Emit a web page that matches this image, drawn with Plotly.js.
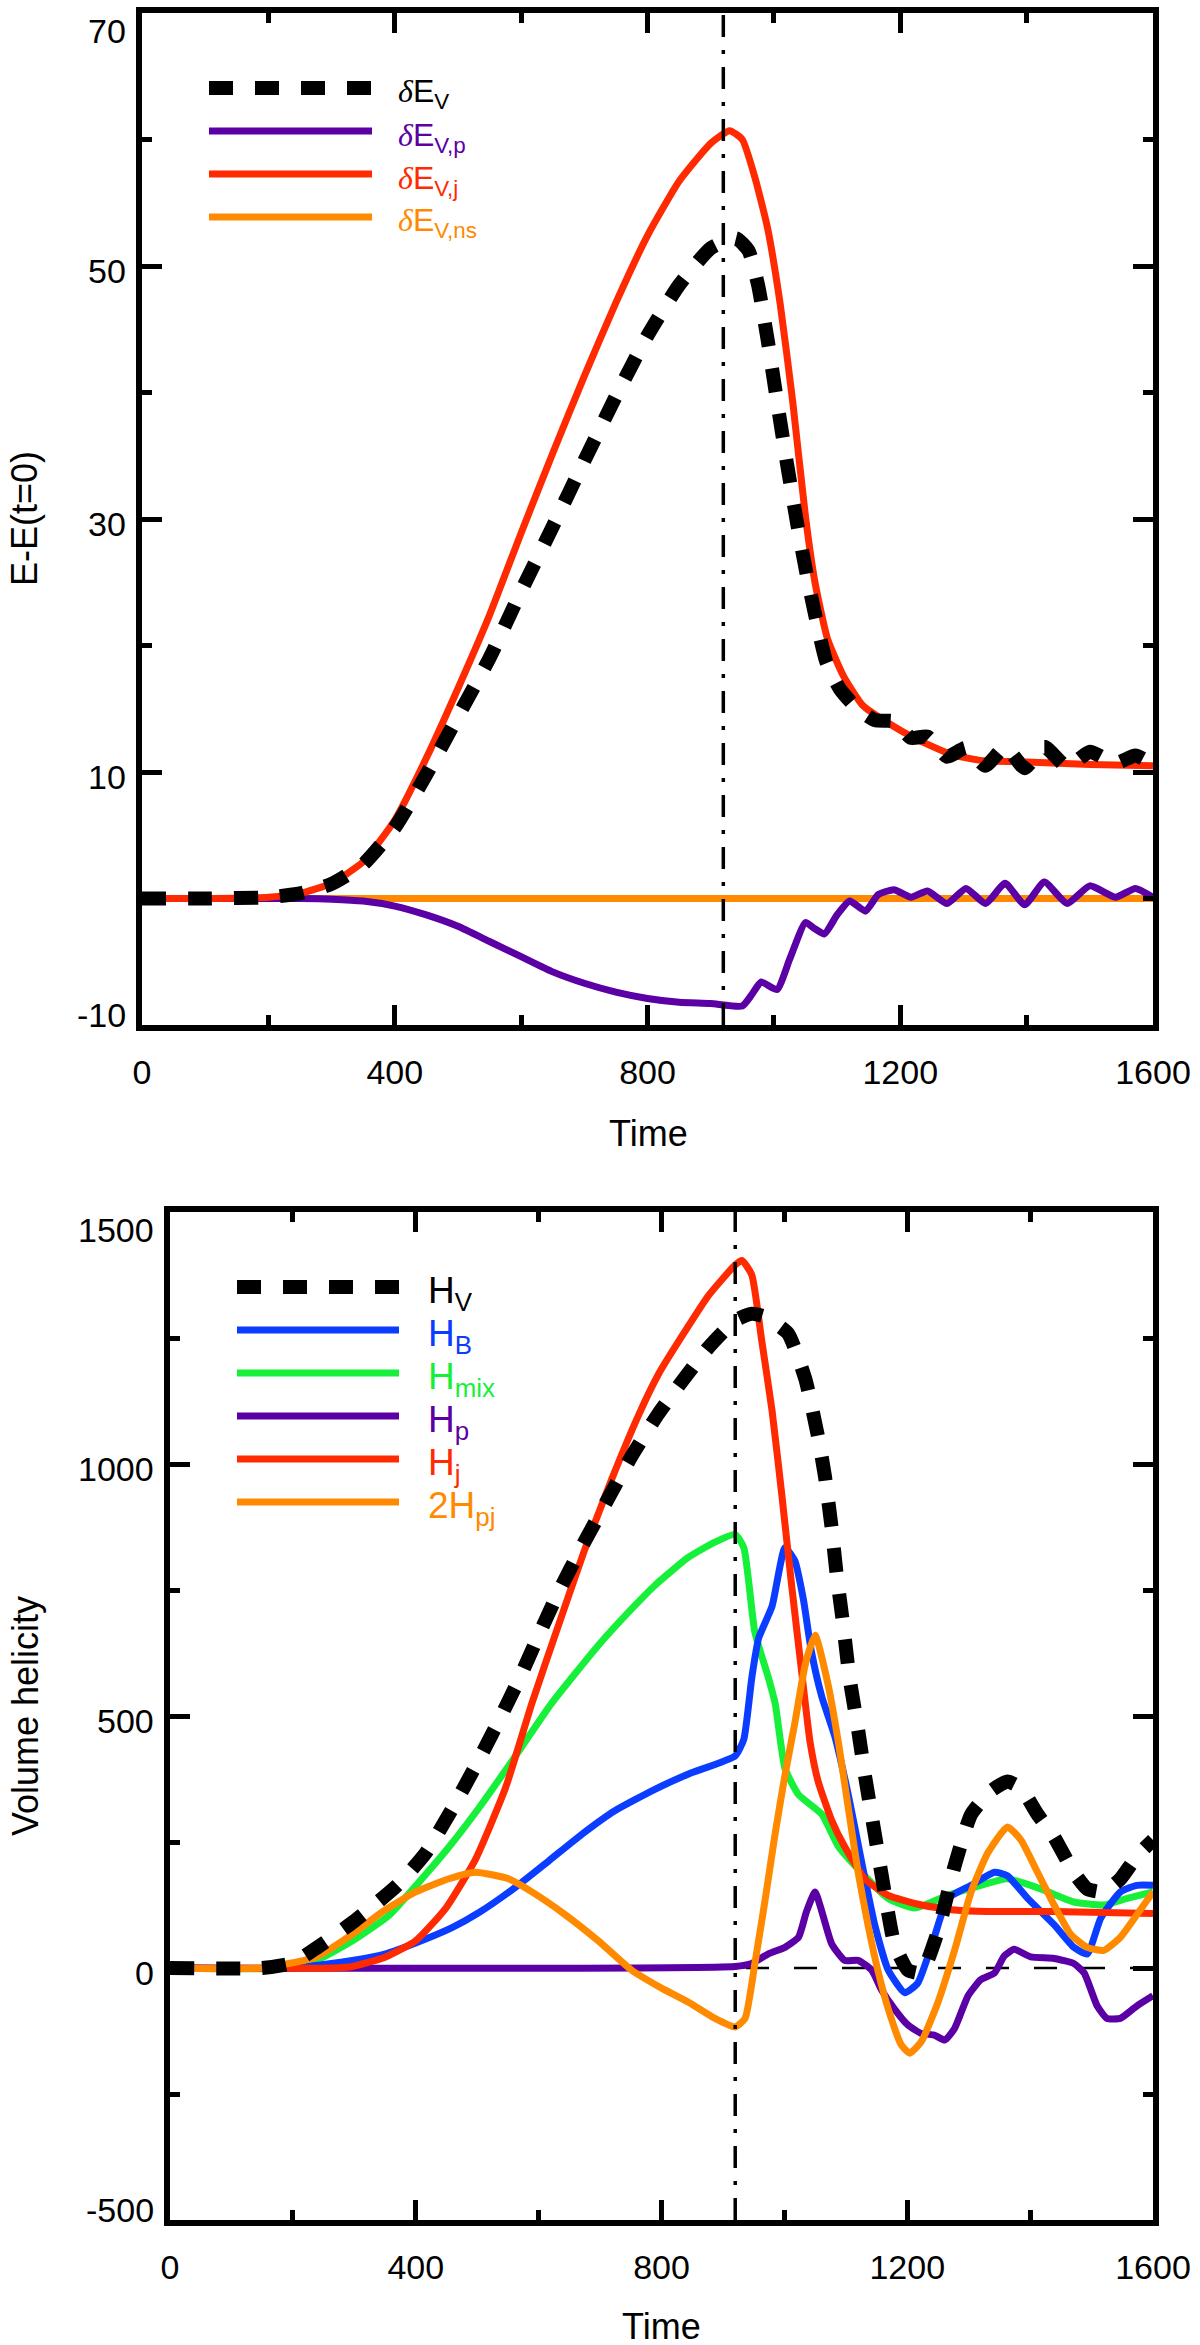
<!DOCTYPE html>
<html>
<head>
<meta charset="utf-8">
<script src="https://cdn.plot.ly/plotly-3.0.1.min.js"></script>
<style>
  body { margin: 0; background: #fff; }
  #graph { width: 1200px; height: 2345px; }
</style>
</head>
<body>
<div id="graph"></div>
<script>
// ---- top panel: energies ----
const tEv = [0, 100, 200, 250, 300, 350, 400, 450, 500, 550, 600, 650, 700, 750, 800, 850, 900, 940, 960, 975,
  990, 1006, 1021, 1037, 1052, 1068, 1083, 1104, 1130, 1160, 1191, 1217, 1243, 1274, 1304, 1335, 1366, 1397, 1428, 1464,
  1500, 1541, 1572, 1600];
const eV = [0, 0, 0.1, 0.4, 1.15, 2.7, 5.6, 9.8, 14.4, 19.0, 24.3, 29.4, 34.6, 39.7, 44.5, 48.5, 51.4, 52.2, 51.2, 48.5,
  44.2, 39.0, 34.3, 29.6, 25.6, 21.8, 18.7, 16.6, 15.1, 14.1, 14.0, 12.7, 12.8, 11.2, 11.9, 10.5, 12.0, 10.3, 12.0, 10.4,
  11.6, 10.7, 11.3, 10.6];

const tEp = [0, 250, 300, 350, 400, 450, 500, 550, 600, 650, 700, 750, 800, 850, 900, 950, 965, 980, 1005, 1025,
  1050, 1065, 1080, 1100, 1120, 1145, 1165, 1190, 1217, 1243, 1274, 1304, 1335, 1366, 1397, 1428, 1464, 1500, 1541, 1572,
  1600];
const eP = [0, 0, -0.05, -0.2, -0.6, -1.3, -2.2, -3.4, -4.6, -5.8, -6.7, -7.4, -7.9, -8.2, -8.3, -8.5, -7.6, -6.6, -7.2, -4.8,
  -1.9, -2.4, -2.8, -1.3, -0.2, -1.0, 0.3, 0.7, 0.1, 0.6, -0.4, 0.8, -0.4, 1.2, -0.5, 1.3, -0.4, 1.0, 0.1, 0.8,
  0.1];

const tEj = [0, 100, 200, 250, 300, 350, 400, 450, 500, 550, 600, 650, 700, 750, 800, 850, 900, 930, 950, 970,
  990, 1010, 1030, 1050, 1065, 1085, 1110, 1140, 1180, 1230, 1280, 1330, 1400, 1500, 1600];
const eJ = [0, 0, 0.1, 0.4, 1.2, 2.9, 6.2, 11.1, 16.6, 22.4, 28.9, 35.2, 41.3, 47.1, 52.4, 56.7, 59.7, 60.7, 60.0, 57.0,
  53.0, 47.0, 39.2, 30.2, 25.0, 20.5, 17.6, 15.3, 13.9, 12.5, 11.4, 10.9, 10.8, 10.6, 10.5];

const tEns = [0, 1600];
const eNs = [0, 0];

const energyTickVals = [-10, 10, 30, 50, 70];
const energyTickText = ['-10', '10', '30', '50', '70'];

// ---- bottom panel: helicities ----
const tHv = [0, 150, 200, 240, 300, 370, 416, 459, 497, 535, 570, 600, 632, 670, 708, 751, 795, 834, 877, 920,
  947, 969, 1006, 1034, 1055, 1066, 1077, 1085, 1096, 1106, 1120, 1131, 1147, 1163, 1179, 1201, 1223, 1250, 1277, 1304,
  1336, 1363, 1385, 1412, 1439, 1471, 1493, 1520, 1547, 1574, 1600];
const hV = [0, 0, 10, 41, 93, 164, 228, 315, 400, 490, 578, 660, 745, 835, 920, 1015, 1100, 1165, 1232, 1285,
  1298, 1292, 1259, 1169, 1053, 976, 873, 782, 679, 576, 473, 383, 267, 151, 48, -4, -10, 73, 202, 305,
  351, 370, 357, 305, 260, 190, 157, 151, 177, 222, 254];

const tHb = [0, 200, 297, 351, 405, 459, 503, 562, 616, 670, 724, 790, 844, 920, 934, 947, 958, 980, 1001, 1017,
  1031, 1044, 1061, 1082, 1104, 1125, 1147, 1169, 1196, 1217, 1244, 1266, 1304, 1342, 1363, 1396, 1439, 1471, 1493, 1515,
  1547, 1574, 1600];
const hB = [0, 0, 15, 28, 52, 80, 110, 160, 212, 265, 312, 355, 385, 421, 454, 576, 654, 718, 834, 808,
  731, 628, 538, 460, 344, 215, 86, -4, -49, -30, 61, 138, 164, 190, 183, 138, 86, 41, 28, 99,
  151, 164, 164];

const tHmix = [0, 184, 238, 297, 357, 405, 454, 503, 562, 621, 697, 751, 790, 844, 887, 920, 934, 952, 974, 985,
  1001, 1023, 1061, 1088, 1125, 1169, 1212, 1266, 1320, 1363, 1417, 1471, 1520, 1558, 1600];
const hMix = [0, 0, 15, 54, 105, 170, 240, 318, 420, 525, 640, 712, 760, 815, 845, 860, 834, 666, 576, 525,
  396, 344, 305, 241, 190, 138, 119, 144, 164, 177, 157, 131, 125, 138, 151];

const tHp = [0, 920, 947, 974, 1001, 1023, 1036, 1050, 1061, 1077, 1098, 1120, 1142, 1158, 1179, 1201, 1223, 1244, 1261, 1277,
  1299, 1320, 1342, 1358, 1374, 1401, 1439, 1471, 1488, 1509, 1525, 1547, 1574, 1600];
const hP = [0, 3, 9, 28, 41, 61, 112, 151, 112, 48, 15, 15, -4, -43, -81, -113, -130, -133, -143, -120,
  -55, -23, -10, 24, 37, 22, 19, 9, -10, -75, -100, -100, -75, -55];

const tHj = [0, 265, 297, 351, 400, 449, 497, 546, 589, 632, 675, 719, 762, 795, 834, 877, 920, 931, 947, 963,
  980, 996, 1012, 1028, 1042, 1055, 1077, 1098, 1131, 1169, 1223, 1277, 1331, 1439, 1600];
const hJ = [0, 0, 3, 22, 54, 119, 215, 357, 525, 679, 830, 970, 1095, 1178, 1255, 1335, 1395, 1404, 1375, 1246,
  1105, 937, 757, 589, 447, 370, 293, 241, 177, 144, 125, 115, 112, 112, 108];

const tH2pj = [0, 150, 238, 297, 346, 400, 454, 497, 551, 589, 643, 697, 751, 800, 844, 887, 920, 936, 952, 969,
  985, 1001, 1017, 1034, 1050, 1071, 1088, 1104, 1120, 1136, 1152, 1169, 1190, 1204, 1223, 1250, 1277, 1304, 1331, 1363,
  1385, 1412, 1439, 1466, 1493, 1520, 1547, 1574, 1600];
const h2pj = [0, 0, 22, 67, 112, 151, 177, 190, 177, 151, 106, 54, -4, -40, -68, -100, -117, -100, 9, 138,
  267, 383, 486, 602, 660, 563, 447, 318, 190, 86, -4, -81, -152, -169, -146, -68, 35, 151, 228, 280,
  254, 190, 125, 67, 41, 35, 61, 106, 151];

const helicityTickVals = [-500, 0, 500, 1000, 1500];
const helicityTickText = ['-500', '0', '500', '1000', '1500'];

const timeTickVals = [0, 400, 800, 1200, 1600];
const peakTime = 920;

// colours
const BLACK = '#000000';
const PURPLE = '#5a00a5';
const RED = '#ff2a00';
const ORANGE = '#ff8a00';
const BLUE = '#0a3dff';
const GREEN = '#17f03a';

const FONT = 'Liberation Sans, Arial, Helvetica, sans-serif';
const W = 1200, H = 2345;

function px(x) { return x / W; }
function py(y) { return 1 - y / H; }

function line(x, y, color, xa, ya, dashed) {
    return {
        x: x, y: y,
        xaxis: xa, yaxis: ya,
        type: 'scatter', mode: 'lines',
        hoverinfo: 'skip',
        line: {
            color: color,
            width: dashed ? 14 : 7,
            dash: dashed ? '24px,22px' : 'solid',
            shape: 'spline',
            smoothing: 0.5
        }
    };
}

function frameAxis(extra) {
    const ax = {
        showline: true, linecolor: BLACK, linewidth: 6,
        mirror: 'ticks',
        ticks: 'inside', ticklen: 20, tickwidth: 5, tickcolor: BLACK,
        showgrid: false, zeroline: false,
        tickfont: { family: FONT, size: 34, color: BLACK }
    };
    return Object.assign(ax, extra);
}

function minorTicks(step) {
    return { ticks: 'inside', ticklen: 10, tickwidth: 5, tickcolor: BLACK, dtick: step, tick0: 0, showgrid: false };
}

// IDL style y labels: top label pushed down, bottom label pushed up
function yLabels(vals, texts, yref, xRight) {
    return vals.map(function (v, i) {
        let shift = -5;
        if (i === 0) shift = 10;
        if (i === vals.length - 1) shift = -18;
        return {
            xref: 'paper', yref: yref, x: px(xRight), y: v, text: texts[i],
            xanchor: 'right', yanchor: 'middle', yshift: shift, showarrow: false,
            font: { family: FONT, size: 34, color: BLACK }
        };
    });
}

function legendRows(rows, x0, x1, xt, fontSize) {
    const shapes = [];
    const notes = [];
    rows.forEach(function (r) {
        shapes.push({
            type: 'line', xref: 'paper', yref: 'paper',
            x0: px(x0), x1: px(x1), y0: py(r.y), y1: py(r.y),
            line: { color: r.color, width: r.dashed ? 14 : 7, dash: r.dashed ? '24px,22px' : 'solid' }
        });
        notes.push({
            xref: 'paper', yref: 'paper', x: px(xt), y: py(r.y),
            xanchor: 'left', yanchor: 'middle', yshift: -6,
            showarrow: false, text: r.text,
            font: { family: FONT, size: fontSize, color: r.color }
        });
    });
    return { shapes: shapes, notes: notes };
}

function draw() {
    const traces = [
        line(tEns, eNs, ORANGE, 'x', 'y'),
        line(tEp, eP, PURPLE, 'x', 'y'),
        line(tEj, eJ, RED, 'x', 'y'),
        line(tEv, eV, BLACK, 'x', 'y', true),

        line(tHp, hP, PURPLE, 'x2', 'y2'),
        line(tHmix, hMix, GREEN, 'x2', 'y2'),
        line(tHb, hB, BLUE, 'x2', 'y2'),
        line(tHj, hJ, RED, 'x2', 'y2'),
        line(tH2pj, h2pj, ORANGE, 'x2', 'y2'),
        line(tHv, hV, BLACK, 'x2', 'y2', true)
    ];

    const delta = '<span style="font-family:Liberation Serif"><i>δ</i></span>';
    const topLegend = legendRows([
        { y: 88, color: BLACK, dashed: true, text: delta + 'E<sub>V</sub>' },
        { y: 131, color: PURPLE, text: delta + 'E<sub>V,p</sub>' },
        { y: 174, color: RED, text: delta + 'E<sub>V,j</sub>' },
        { y: 217, color: ORANGE, text: delta + 'E<sub>V,ns</sub>' }
    ], 209, 372, 396, 32);
    const botLegend = legendRows([
        { y: 1287, color: BLACK, dashed: true, text: 'H<sub>V</sub>' },
        { y: 1330, color: BLUE, text: 'H<sub>B</sub>' },
        { y: 1373, color: GREEN, text: 'H<sub>mix</sub>' },
        { y: 1416, color: PURPLE, text: 'H<sub>p</sub>' },
        { y: 1459, color: RED, text: 'H<sub>j</sub>' },
        { y: 1502, color: ORANGE, text: '2H<sub>pj</sub>' }
    ], 237, 399, 426, 37);

    const markLines = [
        {
            type: 'line', xref: 'x', yref: 'y domain', x0: peakTime, x1: peakTime, y0: 0, y1: 1,
            line: { color: BLACK, width: 3.5, dash: '22px,13px,4px,13px' }
        },
        {
            type: 'line', xref: 'x2', yref: 'y2 domain', x0: peakTime, x1: peakTime, y0: 0, y1: 1,
            line: { color: BLACK, width: 3.5, dash: '22px,13px,4px,13px' }
        },
        {
            type: 'line', xref: 'x2 domain', yref: 'y2', x0: 0, x1: 1, y0: 0, y1: 0, layer: 'below',
            line: { color: BLACK, width: 2.5, dash: '23px,25px' }
        }
    ];

    const titles = [
        { text: 'E-E(t=0)', x: px(24), y: py(519), textangle: -90 },
        { text: 'Time', x: px(648), y: py(1133), textangle: 0 },
        { text: 'Volume helicity', x: px(25), y: py(1716), textangle: -90 },
        { text: 'Time', x: px(661), y: py(2326), textangle: 0 }
    ].map(function (t) {
        return {
            xref: 'paper', yref: 'paper', x: t.x, y: t.y, text: t.text, textangle: t.textangle,
            xanchor: 'center', yanchor: 'middle', showarrow: false,
            font: { family: FONT, size: 36, color: BLACK }
        };
    });

    const layout = {
        width: W, height: H,
        margin: { l: 0, r: 0, t: 0, b: 0 },
        paper_bgcolor: '#ffffff', plot_bgcolor: '#ffffff',
        showlegend: false,
        font: { family: FONT, size: 34, color: BLACK },
        xaxis: frameAxis({
            anchor: 'y', domain: [px(142), px(1153)], range: [0, 1600],
            tickmode: 'array', tickvals: timeTickVals, ticklabelstandoff: 12,
            minor: minorTicks(200)
        }),
        yaxis: frameAxis({
            anchor: 'x', domain: [py(1025), py(13)], range: [-10, 70],
            tickmode: 'array', tickvals: energyTickVals, showticklabels: false,
            minor: minorTicks(10)
        }),
        xaxis2: frameAxis({
            anchor: 'y2', domain: [px(170), px(1153)], range: [0, 1600],
            tickmode: 'array', tickvals: timeTickVals, ticklabelstandoff: 12,
            minor: minorTicks(200)
        }),
        yaxis2: frameAxis({
            anchor: 'x2', domain: [py(2220), py(1212)], range: [-500, 1500],
            tickmode: 'array', tickvals: helicityTickVals, showticklabels: false,
            minor: minorTicks(250)
        }),
        shapes: markLines.concat(topLegend.shapes, botLegend.shapes),
        annotations: titles.concat(
            yLabels(energyTickVals, energyTickText, 'y', 128),
            yLabels(helicityTickVals, helicityTickText, 'y2', 156),
            topLegend.notes, botLegend.notes)
    };

    Plotly.react('graph', traces, layout, { staticPlot: true });
}

window.addEventListener("load", draw, false);
</script>
</body>
</html>
